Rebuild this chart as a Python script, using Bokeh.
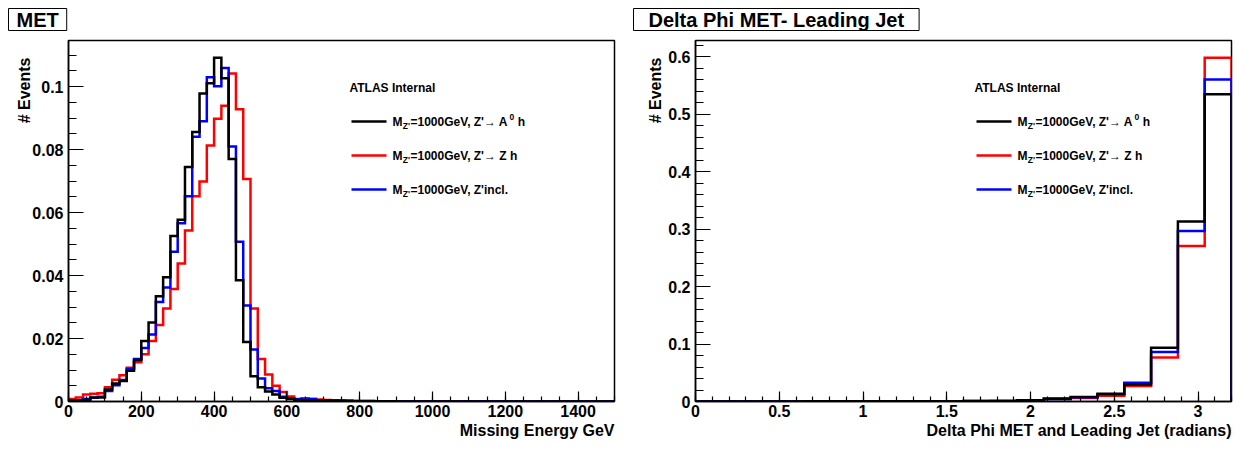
import numpy as np
from bokeh.plotting import figure
from bokeh.models import FixedTicker, CustomJSTickFormatter, Label, Range1d, Title
from bokeh.layouts import row
from bokeh.embed import file_html
from bokeh.resources import INLINE

FONT = "Liberation Sans"

# ---------------- data ----------------
met_title = "MET"
met_xlabel = "Missing Energy GeV"
met_bin_width = 20.0
met_xmax = 1500.0
met_black = [0.0004, 0.0004, 0.0005, 0.0013, 0.0013, 0.0038, 0.0057, 0.0065, 0.0098, 0.0132,
             0.0192, 0.0251, 0.0334, 0.0395, 0.0526, 0.0577, 0.0745, 0.0856, 0.0978, 0.1011,
             0.1092, 0.1027, 0.0770, 0.0385, 0.0189, 0.0080, 0.0045, 0.0032, 0.0022, 0.0012,
             0.0008, 0.0005, 0.0004, 0.0003, 0.0003, 0.0002, 0.0002, 0.0002, 0.0001, 0.0001,
             0.0001, 0.0001, 0.0001, 0.0001, 0.0001, 0.0, 0.0, 0.0, 0.0, 0.0,
             0.0, 0.0, 0.0, 0.0, 0.0, 0.0, 0.0, 0.0, 0.0, 0.0,
             0.0, 0.0, 0.0, 0.0, 0.0, 0.0, 0.0, 0.0, 0.0, 0.0,
             0.0, 0.0, 0.0, 0.0, 0.0]
met_red = [0.0008, 0.0013, 0.0022, 0.0025, 0.0026, 0.0045, 0.0069, 0.0083, 0.0107, 0.0125,
           0.0150, 0.0192, 0.0243, 0.0295, 0.0357, 0.0438, 0.0543, 0.0652, 0.0699, 0.0813,
           0.0898, 0.0939, 0.1042, 0.0928, 0.0707, 0.0295, 0.0135, 0.0086, 0.0050, 0.0030,
           0.0016, 0.0008, 0.0010, 0.0009, 0.0006, 0.0005, 0.0004, 0.0003, 0.0003, 0.0002,
           0.0002, 0.0002, 0.0001, 0.0001, 0.0001, 0.0001, 0.0001, 0.0, 0.0, 0.0,
           0.0, 0.0, 0.0, 0.0, 0.0, 0.0, 0.0, 0.0, 0.0, 0.0,
           0.0, 0.0, 0.0, 0.0, 0.0, 0.0, 0.0, 0.0, 0.0, 0.0,
           0.0, 0.0, 0.0, 0.0, 0.0]
met_blue = [0.0002, 0.0004, 0.0008, 0.0012, 0.0015, 0.0033, 0.0052, 0.0068, 0.0103, 0.0135,
            0.0170, 0.0213, 0.0316, 0.0362, 0.0476, 0.0566, 0.0652, 0.0841, 0.0890, 0.1030,
            0.1001, 0.1059, 0.0810, 0.0507, 0.0305, 0.0165, 0.0073, 0.0042, 0.0033, 0.0015,
            0.0010, 0.0007, 0.0006, 0.0007, 0.0004, 0.0003, 0.0003, 0.0002, 0.0002, 0.0001,
            0.0001, 0.0001, 0.0001, 0.0001, 0.0, 0.0, 0.0, 0.0, 0.0, 0.0,
            0.0, 0.0, 0.0, 0.0, 0.0, 0.0, 0.0, 0.0, 0.0, 0.0,
            0.0, 0.0, 0.0, 0.0, 0.0, 0.0, 0.0, 0.0, 0.0, 0.0,
            0.0, 0.0, 0.0, 0.0, 0.0]
met_xticks = [0, 200, 400, 600, 800, 1000, 1200, 1400]
met_xminor_step = 50
met_yticks = [0, 0.02, 0.04, 0.06, 0.08, 0.1]
met_yminor_step = 0.005

dphi_title = "Delta Phi MET- Leading Jet"
dphi_xlabel = "Delta Phi MET and Leading Jet (radians)"
dphi_bin_width = 0.16
dphi_xmax = 3.2
dphi_black = [0.0002, 0.0002, 0.0002, 0.0002, 0.0003, 0.0003, 0.0003, 0.0004, 0.0005, 0.0006,
              0.0008, 0.0010, 0.0022, 0.0042, 0.0078, 0.0135, 0.0295, 0.0935, 0.3130, 0.5346]
dphi_red = [0.0002, 0.0002, 0.0002, 0.0002, 0.0002, 0.0003, 0.0003, 0.0004, 0.0004, 0.0005,
            0.0006, 0.0008, 0.0018, 0.0055, 0.0062, 0.0098, 0.0270, 0.0765, 0.2704, 0.5980]
dphi_blue = [0.0002, 0.0002, 0.0002, 0.0002, 0.0003, 0.0003, 0.0005, 0.0005, 0.0005, 0.0005,
             0.0007, 0.0009, 0.0020, 0.0045, 0.0072, 0.0125, 0.0325, 0.0862, 0.2965, 0.5600]
dphi_xticks = [0, 0.5, 1, 1.5, 2, 2.5, 3]
dphi_xminor_step = 0.1
dphi_yticks = [0, 0.1, 0.2, 0.3, 0.4, 0.5, 0.6]
dphi_yminor_step = 0.02

ylabel_text = "# Events"
atlas_text = "ATLAS Internal"
legend_colors = ["#000000", "#ff0000", "#0000ff"]
legend_main = ["=1000GeV, Z'\u2192 A", "=1000GeV, Z'\u2192 Z h", "=1000GeV, Z'incl."]

# ---------------- helpers ----------------
FIG_H = 441
TOP, BOTTOM = 40, 40


def p2d(cfg, px, py):
    """page pixel -> data coordinates"""
    x = cfg["x0"] + (px - cfg["fl"]) / cfg["fw"] * (cfg["x1"] - cfg["x0"])
    y = cfg["y0"] + (cfg["ft"] + cfg["fh"] - py) / cfg["fh"] * (cfg["y1"] - cfg["y0"])
    return x, y


def step_xy(edges, vals):
    xs = np.repeat(edges, 2)
    ys = np.concatenate([[0.0], np.repeat(vals, 2), [0.0]])
    return xs, ys


def lab(p, x, y, text, size, **kw):
    l = Label(x=x, y=y, text=text, text_font=FONT, text_font_size=f"{size}px",
              text_font_style="bold", text_color="black", **kw)
    p.add_layout(l)
    return l


def make_plot(pad, fig_w, border_left, border_right, series, bin_width, xmax,
              xticks, xminor_step, yticks, yminor_step, title, xlabel, title_pad, ylab_standoff):
    ymax = 1.05 * max(max(s) for s in series)
    fw = fig_w - border_left - border_right
    fh = FIG_H - TOP - BOTTOM
    cfg = dict(fl=pad + border_left, ft=TOP, fw=fw, fh=fh,
               x0=0.0, x1=xmax, y0=0.0, y1=ymax)
    p = figure(width=fig_w, height=FIG_H, x_range=Range1d(0, xmax), y_range=Range1d(0, ymax),
               output_backend="svg", toolbar_location=None, title=title,
               min_border_left=border_left, min_border_right=border_right,
               min_border_top=TOP, min_border_bottom=BOTTOM)
    p.background_fill_color = "white"
    p.border_fill_color = "white"
    p.outline_line_color = "black"
    p.outline_line_width = 1.5
    p.xgrid.visible = False
    p.ygrid.visible = False

    # title box
    t = p.title
    t.align = "left"
    t.offset = 8 - border_left
    t.standoff = 16
    t.vertical_align = "top"
    t.text_font = FONT
    t.text_font_size = "20px"
    t.text_font_style = "bold"
    t.text_color = "black"
    t.border_line_color = "black"
    t.border_line_width = 1
    t.background_fill_color = "white"
    t.padding = dict(left=title_pad, right=title_pad, top=0, bottom=0)

    fmt = CustomJSTickFormatter(code="return String(parseFloat(tick.toFixed(4)));")
    xminor = list(np.round(np.arange(0, xmax + 1e-9, xminor_step), 6))
    yminor = list(np.round(np.arange(0, ymax, yminor_step), 6))
    p.xaxis.ticker = FixedTicker(ticks=xticks, minor_ticks=xminor)
    p.yaxis.ticker = FixedTicker(ticks=yticks, minor_ticks=yminor)
    for ax, tin, tmin, stand, fs in ((p.xaxis, 10, 5, 3, 16), (p.yaxis, 15, 8, 5, 16)):
        ax.formatter = fmt
        ax.major_tick_in = tin
        ax.major_tick_out = 0
        ax.minor_tick_in = tmin
        ax.minor_tick_out = 0
        ax.major_tick_line_color = "black"
        ax.minor_tick_line_color = "black"
        ax.major_tick_line_width = 1.2
        ax.minor_tick_line_width = 1.2
        ax.axis_line_color = "black"
        ax.axis_line_width = 1.5
        ax.major_label_text_font = FONT
        ax.major_label_text_font_style = "bold"
        ax.major_label_text_font_size = f"{fs}px"
        ax.major_label_text_color = "black"
        ax.major_label_standoff = stand

    # axis titles as side-panel titles (right/top aligned as in ROOT)
    xt = Title(text=xlabel, align="right", offset=0, standoff=0,
               text_font=FONT, text_font_size="16px", text_font_style="bold", text_color="black")
    p.add_layout(xt, "below")
    yt = Title(text=ylabel_text, align="right", offset=17, standoff=ylab_standoff,
               text_font=FONT, text_font_size="16px", text_font_style="bold", text_color="black")
    p.add_layout(yt, "left")

    nb = len(series[0])
    edges = np.arange(nb + 1) * bin_width
    for idx in (1, 2, 0):
        xs, ys = step_xy(edges, series[idx])
        p.line(xs, ys, line_color=legend_colors[idx], line_width=2.5, line_join="miter")

    # ATLAS label + legend
    a_x, a_y = p2d(cfg, pad + 349, 87)
    lab(p, a_x, a_y, atlas_text, 12, text_align="left", text_baseline="middle")
    row_y = [121, 155, 189]
    F = 12.0
    for i in range(3):
        x0, yy = p2d(cfg, pad + 351, row_y[i])
        x1, _ = p2d(cfg, pad + 386, row_y[i])
        p.segment(x0=[x0], y0=[yy], x1=[x1], y1=[yy], line_color=legend_colors[i], line_width=2.5)
        mx = pad + 392
        mX, mY = p2d(cfg, mx, row_y[i])
        lab(p, mX, mY, "M", F, text_align="left", text_baseline="middle")
        sX, sY = p2d(cfg, mx + 0.833 * F + 0.3, row_y[i] + 4)
        lab(p, sX, sY, "Z'", 8.5, text_align="left", text_baseline="middle")
        tmx = mx + 0.833 * F + 0.849 * 8.5 + 0.8
        tX, tY = p2d(cfg, tmx, row_y[i])
        lab(p, tX, tY, legend_main[i], F, text_align="left", text_baseline="middle")
        if i == 0:
            supx = tmx + 8.214 * F + 0.5
            uX, uY = p2d(cfg, supx, row_y[i] - 5)
            lab(p, uX, uY, "0", 8.5, text_align="left", text_baseline="middle")
            hX, hY = p2d(cfg, supx + 0.556 * 8.5 + 0.278 * F, row_y[i])
            lab(p, hX, hY, "h", F, text_align="left", text_baseline="middle")
    return p


p_met = make_plot(0, 625, 68, 11, [met_black, met_red, met_blue], met_bin_width, met_xmax,
                  met_xticks, met_xminor_step, met_yticks, met_yminor_step, met_title,
                  met_xlabel, 8, -7)
p_dphi = make_plot(625, 609, 70, 3, [dphi_black, dphi_red, dphi_blue], dphi_bin_width,
                   dphi_xmax, dphi_xticks, dphi_xminor_step, dphi_yticks, dphi_yminor_step,
                   dphi_title, dphi_xlabel, 15, 4)

layout = row(p_met, p_dphi, spacing=0)

open("out.html", "w").write(file_html(layout, INLINE))
